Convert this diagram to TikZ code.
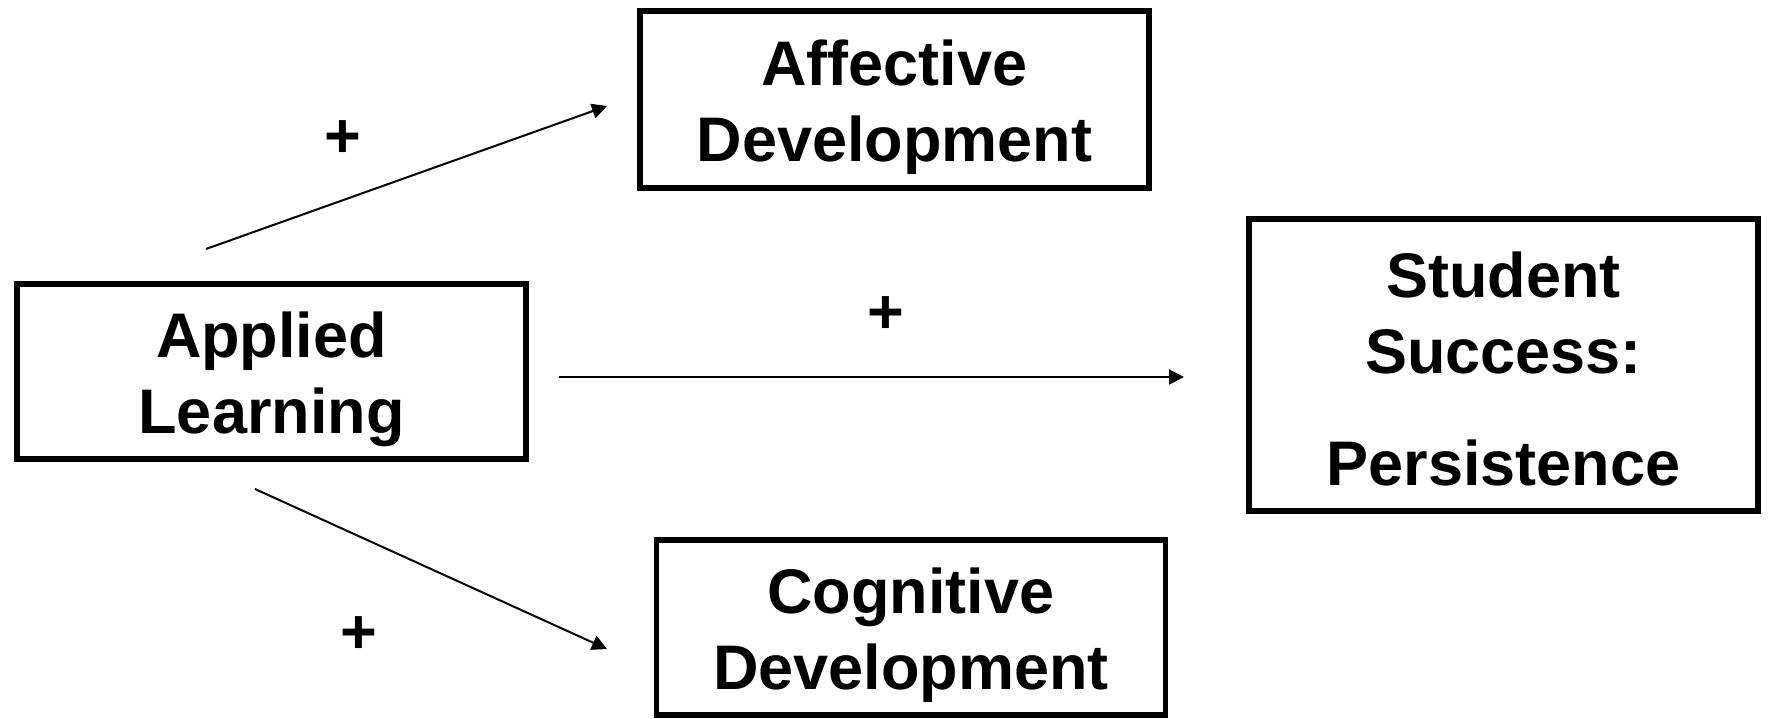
\documentclass[tikz,border=0pt]{standalone}
\usepackage{fontspec}
\setmainfont{Liberation Sans}
\usetikzlibrary{positioning,arrows.meta}

\begin{document}
\begin{tikzpicture}[
  x=0.5pt, y=-0.5pt,
  font=\fontsize{31.5}{38}\selectfont\bfseries,
  box/.style={draw=black, line width=2.8pt, inner sep=0pt, minimum width=254.5pt},
  txt/.style={align=center, inner sep=0pt},
  sign/.style={inner sep=0pt},
  link/.style={-{Triangle[length=7.5pt, width=7.5pt]}, line width=1pt, black}
]
  \useasboundingbox (0,0) rectangle (1768,718);

  % the four constructs
  \node[box, minimum height=88.5pt, label={[txt, yshift=-4pt]center:Affective\\Development}] (affective) at (894.5,99.5) {};
  \node[box, minimum height=87.5pt, label={[txt, yshift=-4pt]center:Applied\\Learning}] (applied) at (271.5,371.5) {};
  \node[box, minimum height=146pt, label={[txt, yshift=-2pt]center:Student\\Success:\\[18pt]Persistence}] (success) at (1503.5,365) {};
  \node[box, minimum height=87.5pt, label={[txt, yshift=-4pt]center:Cognitive\\Development}] (cognitive) at (911,627.5) {};

  % free arrow ends
  \coordinate (upstart) at (206,249);
  \coordinate (upend) at (607,106);
  \coordinate (midstart) at (559,377);
  \coordinate (midend) at (1184,377);
  \coordinate (lowstart) at (255,489);
  \coordinate (lowend) at (607,649);

  \draw[link] (upstart) -- (upend);
  \draw[link] (midstart) -- (midend);
  \draw[link] (lowstart) -- (lowend);

  % signs of the effects
  \node[sign] (plusup) at (343,139) {+};
  \node[sign] (plusmid) at (886,315) {+};
  \node[sign] (pluslow) at (359,635) {+};
\end{tikzpicture}
\end{document}
